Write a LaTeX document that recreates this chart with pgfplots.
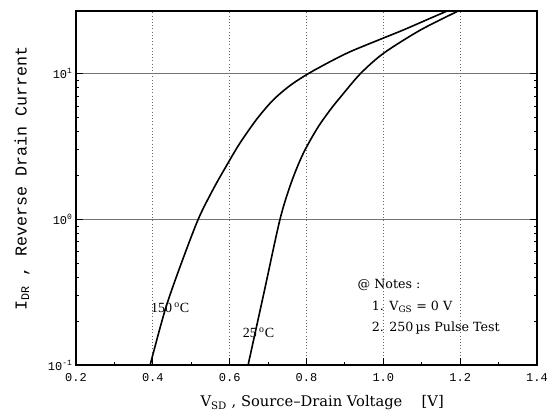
\documentclass[border=0pt]{standalone}
\usepackage{pgfplots}
\pgfplotsset{compat=1.18}
\usepackage{fontspec}
\setmainfont{Liberation Serif}
\newfontfamily\mono{Liberation Mono}
\newfontfamily\wide[Ligatures=TeX]{DejaVu Serif}

% curves (V_SD in V, I_DR in A)
\pgfplotstableread{
V      I
0.393  0.1
0.432  0.239
0.471  0.474
0.518  1.0
0.557  1.61
0.593  2.37
0.627  3.35
0.671  4.9
0.713  6.6
0.757  8.3
0.804  10.0
0.861  12.1
0.914  14.2
0.986  17.0
1.052  20.0
1.110  23.3
1.166  27.0
}\hot
\pgfplotstableread{
V      I
0.648  0.1
0.690  0.32
0.731  1.0
0.760  1.78
0.791  2.82
0.828  4.22
0.861  5.62
0.890  7.0
0.940  10.0
1.000  13.8
1.096  19.95
1.195  27.0
}\room

\begin{document}
\begin{tikzpicture}
\useasboundingbox (-57pt,-39pt) rectangle (358.5pt,273.75pt);
\begin{axis}[
    scale only axis,
    width=345.75pt, height=265.5pt,
    at={(0,0)}, anchor=south west,
    ymode=log,
    xmin=0.2, xmax=1.4,
    ymin=0.1, ymax=27,
    axis line style={black, line width=1pt},
    tick align=inside,
    xtick={0.2,0.4,0.6,0.8,1.0,1.2,1.4},
    xticklabels={0.2,0.4,0.6,0.8,1.0,1.2,1.4},
    minor x tick num=1,
    xtick pos=bottom,
    ytick={0.1,1,10},
    yticklabels={10\textsuperscript{-1},10\textsuperscript{0},10\textsuperscript{1}},
    major tick length=5pt, minor tick length=2.5pt,
    tick style={black, line width=0.8pt},
    ticklabel style={font=\mono\fontsize{9}{10}\selectfont},
    /pgf/number format/assume math mode=true,
    xticklabel style={yshift=-3pt},
    yticklabel style={xshift=1pt},
    xmajorgrids, ymajorgrids,
    x grid style={black!60, dotted, line width=0.6pt},
    y grid style={black!55, line width=0.6pt},
    xlabel={V\textsubscript{SD} , Source\textendash Drain Voltage \quad [V]},
    every axis x label/.style={at={(axis description cs:0.534,0)}, anchor=center, yshift=-28.5pt, font=\wide\fontsize{11}{12}\selectfont},
    ylabel={I\textsubscript{DR} , Reverse Drain Current},
    every axis y label/.style={at={(axis description cs:-0.117,0.527)}, rotate=90, anchor=center, font=\mono\fontsize{12.5}{13}\selectfont},
]
\addplot[black, line width=1.2pt, smooth, tension=0.5] table[x=V, y=I] {\hot};
\addplot[black, line width=1.2pt, smooth, tension=0.5] table[x=V, y=I] {\room};

\node[font=\fontsize{10.5}{11}\selectfont] at (axis cs:0.445,0.247) {150\,\textsuperscript{o}C};
\node[font=\fontsize{10.5}{11}\selectfont] at (axis cs:0.675,0.166) {25\,\textsuperscript{o}C};

\node[anchor=west, font=\wide\fontsize{9.5}{10}\selectfont] at (axis cs:0.921,0.356) {@ Notes :};
\node[anchor=west, font=\wide\fontsize{9.5}{10}\selectfont] at (axis cs:0.958,0.251) {1. V\textsubscript{GS} = 0 V};
\node[anchor=west, font=\wide\fontsize{9.5}{10}\selectfont] at (axis cs:0.958,0.180) {2. 250\,µs Pulse Test};
\end{axis}
\end{tikzpicture}
\end{document}
